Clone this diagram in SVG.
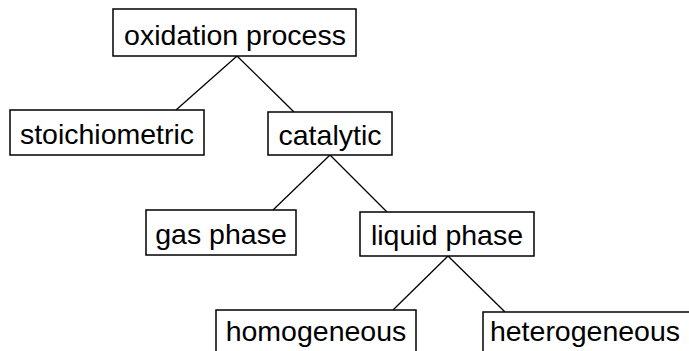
<svg xmlns="http://www.w3.org/2000/svg" width="689" height="351" viewBox="0 0 689 351">
<style>
.box{fill:#fff;stroke:#000;stroke-width:1.5}
.lbl{font-family:"Liberation Sans",Arial,sans-serif;font-size:28.5px;fill:#000;text-anchor:middle}
.con line{stroke:#000;stroke-width:1.3}
</style>
<rect width="689" height="351" fill="#fff"/>
<g class="con" id="connectors">
<line x1="237" y1="56" x2="176" y2="110"/>
<line x1="237" y1="56" x2="294" y2="112"/>
<line x1="330" y1="155" x2="273" y2="210"/>
<line x1="330" y1="155" x2="387" y2="212"/>
<line x1="448" y1="256" x2="393" y2="310"/>
<line x1="448" y1="256" x2="505" y2="312"/>
</g>
<g id="oxidation"><rect class="box" x="113" y="9" width="243" height="47"/><text class="lbl" x="235" y="45">oxidation process</text></g>
<g id="stoichiometric"><rect class="box" x="10" y="110" width="194" height="45"/><text class="lbl" x="107" y="144">stoichiometric</text></g>
<g id="catalytic"><rect class="box" x="268" y="112" width="124" height="43"/><text class="lbl" x="330" y="145">catalytic</text></g>
<g id="gas"><rect class="box" x="146" y="210" width="150" height="45"/><text class="lbl" x="221" y="244">gas phase</text></g>
<g id="liquid"><rect class="box" x="360" y="212" width="174" height="44"/><text class="lbl" x="447" y="245">liquid phase</text></g>
<g id="homogeneous"><path class="box" d="M216,352 V310 H416 V352"/><text class="lbl" x="316" y="341">homogeneous</text></g>
<g id="heterogeneous"><path class="box" d="M483,352 V312 H690"/><text class="lbl" x="585" y="341">heterogeneous</text></g>
</svg>
